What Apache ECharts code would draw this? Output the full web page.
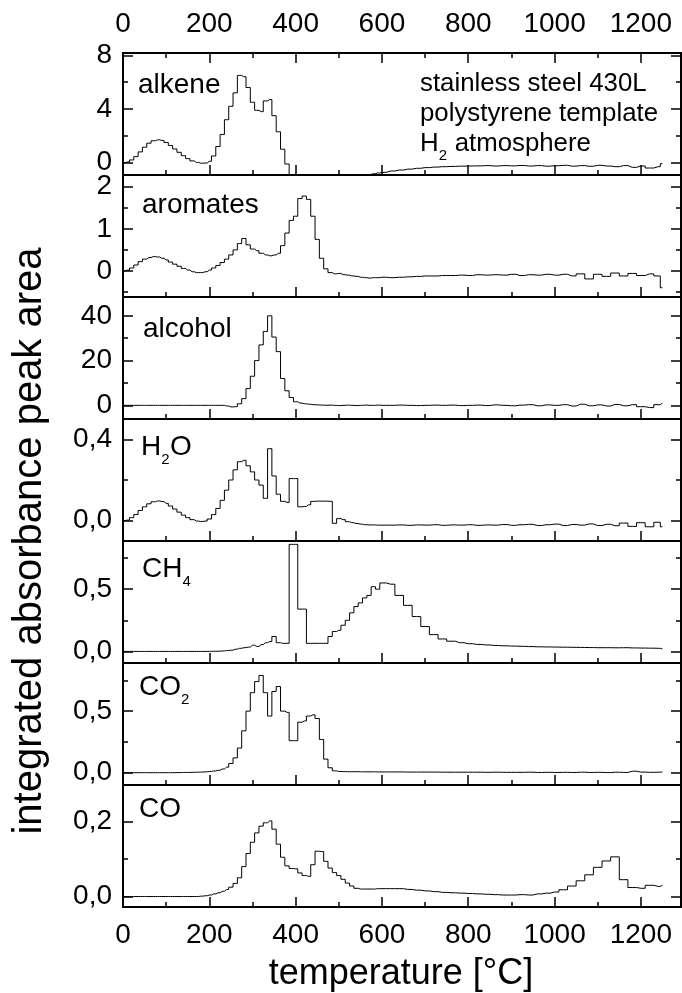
<!DOCTYPE html>
<html><head><meta charset="utf-8">
<script src="https://cdn.jsdelivr.net/npm/echarts@6/dist/echarts.min.js"></script>
<style>html,body{margin:0;padding:0;background:#fff}#c{width:682px;height:993px}</style>
</head><body><div id="c"></div>
<script>
// temperature grid [°C]
const temps = [0,10,20,30,40,50,60,70,80,90,100,110,120,130,140,150,160,170,180,190,
200,210,220,230,240,250,260,270,280,290,300,310,320,330,340,350,360,370,380,390,
400,410,420,430,440,450,460,470,480,490,500,510,520,530,540,550,560,570,580,590,600,
620,640,660,680,700,720,740,760,780,800,820,840,860,880,900,920,940,960,980,1000,
1020,1040,1060,1080,1100,1120,1140,1160,1180,1200,1220,1240,1250];

const alkene = [0.0,0.05,0.2,0.45,0.8,1.15,1.45,1.63,1.7,1.65,
1.5,1.28,1.02,0.77,0.52,0.3,0.13,0.02,-0.04,-0.03,
0.1,0.5,1.2,2.1,3.2,4.2,5.2,6.5,6.4,5.6,
4.5,3.9,3.8,4.6,4.7,3.5,2.3,1.0,-0.1,-1.2,
-2,-2.5,-2.8,-3,-3,-3,-2.8,-2.6,-2.4,-2.2,
-1.9,-1.7,-1.5,-1.35,-1.2,-1.08,-0.93,-0.88,-0.82,-0.77,
-0.72,
-0.62,-0.55,-0.48,-0.42,-0.37,-0.33,-0.3,-0.28,-0.26,-0.25,
-0.24,-0.22,-0.25,-0.22,-0.24,-0.21,-0.25,-0.22,-0.26,-0.23,
-0.2,-0.26,-0.22,-0.27,-0.2,-0.25,-0.3,-0.22,-0.35,-0.25,
-0.4,-0.3,-0.08];

const aromates = [0,0.02,0.07,0.14,0.22,0.28,0.32,0.34,0.33,0.3,
0.26,0.21,0.16,0.11,0.06,0.02,-0.02,-0.04,-0.04,-0.02,
0.02,0.07,0.13,0.2,0.28,0.38,0.5,0.65,0.77,0.62,
0.52,0.48,0.42,0.38,0.36,0.38,0.42,0.6,0.9,1.2,
1.3,1.72,1.78,1.7,1.3,0.75,0.3,0.05,-0.04,-0.07,
-0.06,-0.09,-0.1,-0.12,-0.13,-0.15,-0.16,-0.17,-0.16,-0.16,
-0.15,
-0.16,-0.15,-0.14,-0.13,-0.12,-0.12,-0.11,-0.11,-0.1,-0.11,
-0.09,-0.1,-0.09,-0.1,-0.08,-0.11,-0.09,-0.1,-0.08,-0.1,
-0.08,-0.12,-0.07,-0.19,-0.08,-0.13,-0.05,-0.12,-0.06,-0.11,
-0.07,-0.12,-0.4];

const alcohol = [0,0,0,0,0,0,0,0,0,0,
0,0,0,0,0,0,0,0,0,0,
0,0,0,0,-0.3,-0.7,-0.6,0.7,3,7.5,
13,20,27,33,40,30.5,24,12,6.5,3.5,
1.6,1.0,0.7,0.5,0.3,0.2,0.1,0.05,0.1,0,
-0.1,0,0.1,0,-0.1,0,0.1,0,0,0.1,
0,
0,0.1,0,-0.1,0,0.1,0,0.1,-0.1,0,
0.1,-0.1,0.2,0,-0.2,0.1,0.3,-0.2,0.2,0,
0.3,-0.3,0.5,-0.2,0.2,-0.3,0.4,-0.2,0.3,-0.6,
-1.0,0.3,1.0];

const water = [0,0.003,0.015,0.03,0.05,0.068,0.083,0.093,0.097,0.094,
0.085,0.072,0.057,0.042,0.027,0.015,0.005,-0.002,-0.004,-0.002,
0.008,0.03,0.06,0.1,0.15,0.2,0.25,0.29,0.297,0.27,
0.24,0.2,0.175,0.11,0.354,0.22,0.13,0.095,0.09,0.207,
0.207,0.068,0.07,0.078,0.095,0.096,0.096,0.096,0.095,-0.013,
0.01,0.005,-0.005,-0.01,-0.014,-0.017,-0.02,-0.021,-0.021,-0.022,
-0.022,
-0.022,-0.021,-0.023,-0.021,-0.022,-0.02,-0.023,-0.021,-0.022,-0.02,
-0.023,-0.021,-0.022,-0.019,-0.023,-0.02,-0.018,-0.024,-0.02,-0.017,
-0.024,-0.019,-0.022,-0.016,-0.024,-0.018,-0.025,-0.012,-0.028,-0.01,
-0.03,-0.008,-0.03];

const methane = [0,0,0,0,0,0,0,0,0,0,
0,0,0,0,0,0,0,0,0,0,
0.001,0.001,0.002,0.004,0.007,0.01,0.018,0.025,0.03,0.035,
0.05,0.04,0.055,0.07,0.08,0.12,0.07,0.065,0.065,0.86,
0.86,0.34,0.34,0.065,0.065,0.065,0.065,0.065,0.12,0.16,
0.17,0.21,0.25,0.31,0.36,0.39,0.43,0.45,0.52,0.5,
0.55,
0.54,0.45,0.37,0.28,0.2,0.135,0.1,0.082,0.07,0.062,
0.056,0.052,0.048,0.045,0.043,0.041,0.039,0.037,0.036,0.035,
0.034,0.033,0.032,0.031,0.03,0.03,0.029,0.03,0.028,0.027,
0.026,0.025,0.02];

const co2 = [0,0,0,0,0,0,0,0,0,0,
0,0,0.001,0.001,0.002,0.002,0.003,0.004,0.005,0.007,
0.01,0.014,0.02,0.03,0.045,0.075,0.12,0.2,0.34,0.5,
0.65,0.74,0.79,0.65,0.46,0.66,0.70,0.5,0.49,0.26,
0.26,0.41,0.42,0.46,0.47,0.44,0.27,0.11,0.04,0.015,
0.01,0.009,0.008,0.008,0.008,0.007,0.007,0.007,0.007,0.006,
0.006,
0.006,0.006,0.005,0.005,0.005,0.005,0.004,0.004,0.004,0.004,
0.004,0.003,0.004,0.003,0.003,0.003,0.004,0.002,0.003,0.002,
0.003,0.002,0.004,0.002,0.003,0.001,0.004,0.002,0.012,0.005,
0.003,0.004,0.006];

const co = [0,0,0,0,0,0,0,0,0,0,
0,0,0,0,0,0,0,0,0.001,0.002,
0.004,0.007,0.01,0.014,0.019,0.025,0.035,0.05,0.08,0.115,
0.145,0.17,0.188,0.197,0.202,0.18,0.14,0.105,0.082,0.075,
0.074,0.063,0.056,0.054,0.085,0.121,0.12,0.094,0.076,0.064,
0.056,0.046,0.036,0.028,0.022,0.02,0.02,0.02,0.02,0.021,
0.021,
0.021,0.021,0.019,0.017,0.015,0.013,0.011,0.01,0.009,0.008,
0.007,0.006,0.005,0.004,0.004,0.005,0.004,0.007,0.009,0.012,
0.018,0.028,0.042,0.058,0.078,0.095,0.106,0.045,0.024,0.022,
0.03,0.027,0.03];

const seriesData = [alkene, aromates, alcohol, water, methane, co2, co];
const yMin = [-0.92, -0.62, -6.1, -0.1, -0.093, -0.1, -0.028];
const yMax = [8.17, 2.28, 48.4, 0.5, 0.887, 0.891, 0.298];
const yMajor = [[0,4,8],[0,1,2],[0,20,40],[0,0.4],[0,0.5],[0,0.5],[0,0.2]];
const yMinor = [[2,6],[-0.5,0.5,1.5],[10,30],[0.2],[0.25,0.75],[0.25,0.75],[0.1]];
const yDecimals = [0,0,0,1,1,1,1];
const xMajor = [0,200,400,600,800,1000,1200];
const xMinor = [100,300,500,700,900,1100];
// label parts: even index = normal text, odd index = subscript
const panelLabels = [['alkene'],['aromates'],['alcohol'],['H','2','O'],['CH','4'],['CO','2'],['CO']];
const noteLines = [['stainless steel 430L'],['polystyrene template'],['H','2',' atmosphere']];
const xTitle = 'temperature [°C]';
const yTitle = 'integrated absorbance peak area';

const FONT = '"Liberation Sans", Arial, Helvetica, sans-serif';
const GL = 123, GW = 558, GT = 53, GH = 122, XMAX = 1293;
const tickStyle = {color:'#000', width:1.5};

const grid = [], xAxis = [], yAxis = [], series = [];
function xAx(i, pos, vals, len, labels) {
  return {type:'value', gridIndex:i, min:0, max:XMAX, position:pos,
    axisLine:{show:false, onZero:false}, splitLine:{show:false},
    axisTick:{show:true, inside:true, length:len, lineStyle:tickStyle, customValues:vals},
    axisLabel:{show:labels, customValues:vals, fontFamily:FONT, fontSize:28, color:'#000',
      margin:pos==='top'?15:14, formatter: v => String(v)}};
}
function yAx(i, pos, vals, len, labels) {
  const d = yDecimals[i];
  return {type:'value', gridIndex:i, min:yMin[i], max:yMax[i], position:pos,
    axisLine:{show:false, onZero:false}, splitLine:{show:false},
    axisTick:{show:true, inside:true, length:len, lineStyle:tickStyle, customValues:vals},
    axisLabel:{show:labels, customValues:vals, fontFamily:FONT, fontSize:28, color:'#000', margin:11,
      formatter: v => Number(v).toFixed(d).replace('.', ',')}};
}
for (let i = 0; i < seriesData.length; i++) {
  grid.push({left:GL, top:GT + i*GH, width:GW, height:GH, show:true, borderColor:'#000', borderWidth:2,
    backgroundColor:'transparent', containLabel:false, outerBoundsMode:'none'});
  xAxis.push(xAx(i, 'bottom', xMajor, 10, i === seriesData.length - 1));
  xAxis.push(xAx(i, 'bottom', xMinor, 5, false));
  yAxis.push(yAx(i, 'left', yMajor[i], 10, true));
  yAxis.push(yAx(i, 'left', yMinor[i], 5, false));
  yAxis.push(yAx(i, 'right', yMajor[i], 10, false));
  yAxis.push(yAx(i, 'right', yMinor[i], 5, false));
  series.push({type:'line', xAxisIndex:2*i, yAxisIndex:4*i, step:'middle', showSymbol:false, symbol:'none',
    clip:true, silent:true, lineStyle:{color:'#000', width:1},
    data: temps.map((t, k) => [t, seriesData[i][k]])});
}
xAxis.push(xAx(0, 'top', xMajor, 10, true));
xAxis.push(xAx(0, 'top', xMinor, 5, false));

// text helpers: place labels by their alphabetic baseline, subscripts below it
const ctx = document.createElement('canvas').getContext('2d');
function measure(text, size) {
  ctx.font = size + 'px ' + FONT;
  ctx.textBaseline = 'middle';
  const m = ctx.measureText(text);
  let off = Math.abs(m.alphabeticBaseline || 0);
  if (!off) off = 0.3 * size;
  return {w: m.width, off: off};
}
const graphic = [];
function addLabel(parts, x, baseline, fs, fsSub) {
  let cx = x;
  parts.forEach((p, j) => {
    const sub = j % 2 === 1;
    const size = sub ? fsSub : fs;
    const bl = sub ? baseline + 0.716 * fsSub - 1.5 : baseline;
    const m = measure(p, size);
    graphic.push({type:'text', x:cx, y:bl - m.off, silent:true,
      style:{text:p, fontFamily:FONT, fontSize:size, fill:'#000', align:'left', verticalAlign:'middle'}});
    cx += m.w + (sub ? 0.5 : 0);
  });
}
const labelPos = [[138,93.3],[142,213.3],[143,336.7],[141,455],[142,576.7],[139,695],[139,816.7]];
panelLabels.forEach((p, i) => addLabel(p, labelPos[i][0], labelPos[i][1], 28, 15));
const noteBase = [90.7, 120.5, 151];
noteLines.forEach((p, i) => addLabel(p, 420, noteBase[i], 25.8, 15));
graphic.push({type:'text', x:401, y:974, silent:true,
  style:{text:xTitle, fontFamily:FONT, fontSize:36, fill:'#000', align:'center', verticalAlign:'middle'}});
graphic.push({type:'text', x:30, y:541, rotation:Math.PI/2, silent:true,
  style:{text:yTitle, fontFamily:FONT, fontSize:40, fill:'#000', align:'center', verticalAlign:'middle'}});

const chart = echarts.init(document.getElementById('c'), null, {renderer:'canvas'});
chart.setOption({animation:false, backgroundColor:'#fff', grid, xAxis, yAxis, series, graphic});
</script></body></html>
